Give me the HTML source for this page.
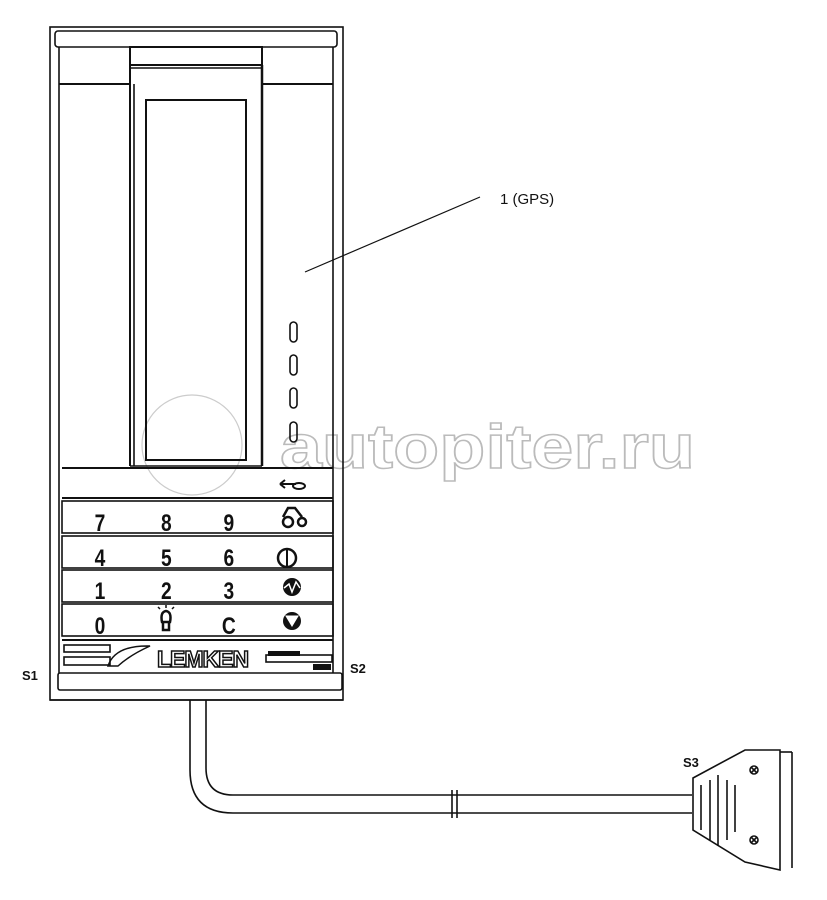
<!DOCTYPE html>
<html><head><meta charset="utf-8"><style>html,body{margin:0;padding:0;background:#fff}svg{display:block}</style></head><body>
<svg width="827" height="900" viewBox="0 0 827 900" xmlns="http://www.w3.org/2000/svg" font-family="Liberation Sans, sans-serif">
<text x="280" y="468" font-size="62" font-weight="bold" fill="none" stroke="#bbb" stroke-width="1.5" textLength="415" lengthAdjust="spacingAndGlyphs">autopiter.ru</text>
<circle cx="192" cy="445" r="50" fill="none" stroke="#ccc" stroke-width="1.2"/>
<g fill="none" stroke="#111" stroke-width="1.6">
<rect x="50" y="27" width="293" height="673"/>
<rect x="55" y="31" width="282" height="16" rx="3"/>
<line x1="59" y1="47" x2="59" y2="673"/>
<line x1="333" y1="47" x2="333" y2="673"/>
<line x1="59" y1="84" x2="130" y2="84" stroke-width="2"/>
<line x1="262" y1="84" x2="333" y2="84" stroke-width="2"/>
<rect x="130" y="47" width="132" height="18" stroke-width="2"/>
<line x1="130" y1="68" x2="262" y2="68"/>
<line x1="130" y1="65" x2="130" y2="466" stroke-width="2"/>
<line x1="262" y1="65" x2="262" y2="466" stroke-width="2.5"/>
<line x1="134" y1="84" x2="134" y2="466"/>
<rect x="146" y="100" width="100" height="360" stroke-width="2"/>
<line x1="130" y1="466" x2="262" y2="466"/>
<rect x="290" y="322" width="7" height="20" rx="3.5"/>
<rect x="290" y="355" width="7" height="20" rx="3.5"/>
<rect x="290" y="388" width="7" height="20" rx="3.5"/>
<rect x="290" y="422" width="7" height="20" rx="3.5"/>
<line x1="62" y1="468" x2="333" y2="468" stroke-width="2"/>
<rect x="62" y="501" width="271" height="32"/>
<rect x="62" y="536" width="271" height="32"/>
<rect x="62" y="570" width="271" height="32"/>
<rect x="62" y="604" width="271" height="32"/>
<line x1="62" y1="498" x2="333" y2="498" stroke-width="2"/>
<line x1="62" y1="640" x2="333" y2="640" stroke-width="2"/>
<rect x="64" y="645" width="46" height="7"/>
<rect x="64" y="657" width="46" height="8"/>
<rect x="266" y="655" width="66" height="7"/>
<rect x="58" y="673" width="284" height="17" rx="2"/>
<line x1="50" y1="700" x2="343" y2="700"/>
<path d="M190 700 V770 Q190 813 233 813 H692"/>
<path d="M206 700 V768 Q206 795 233 795 H692"/>
<line x1="452" y1="790" x2="452" y2="818"/>
<line x1="457" y1="790" x2="457" y2="818"/>
<path d="M693 778 L745 750 H780 L780 870 L745 862 L693 830 Z"/>
<line x1="780" y1="752" x2="792" y2="752"/><line x1="792" y1="752" x2="792" y2="868"/>
<line x1="701" y1="785" x2="701" y2="830"/>
<line x1="710" y1="780" x2="710" y2="840"/>
<line x1="718" y1="775" x2="718" y2="846"/>
<line x1="727" y1="780" x2="727" y2="840"/>
<line x1="735" y1="785" x2="735" y2="832"/>
<circle cx="754" cy="770" r="4"/><circle cx="754" cy="840" r="4"/>
<line x1="751" y1="767" x2="757" y2="773"/><line x1="757" y1="767" x2="751" y2="773"/>
<line x1="751" y1="837" x2="757" y2="843"/><line x1="757" y1="837" x2="751" y2="843"/>
<line x1="305" y1="272" x2="480" y2="197" stroke-width="1.2"/>
<circle cx="287" cy="558" r="9" stroke-width="2.5"/><line x1="287" y1="549" x2="287" y2="567" stroke-width="2"/>
<circle cx="288" cy="522" r="5" stroke-width="2.5"/><circle cx="302" cy="522" r="4" stroke-width="2.5"/>
<path d="M283 517 L288 508 H295 L302 517" stroke-width="2.5"/>
<path d="M280 484 H296 M280 484 L285 480 M280 484 L285 488" stroke-width="2"/>
<ellipse cx="299" cy="486" rx="6" ry="3" stroke-width="2"/>
<path d="M162 622 Q160 612 166 611 Q172 612 170 622 Z M163 622 V630 H169 V622" stroke-width="2.5"/>
<path d="M160 609 L158 607 M166 608 V605 M172 609 L174 607" stroke-width="1.5"/>
</g>
<circle cx="292" cy="587" r="9" fill="#111"/><path d="M284 588 L289 584 L292 592 L296 582 L300 588" fill="none" stroke="#fff" stroke-width="1.5"/>
<circle cx="292" cy="621" r="9" fill="#111"/><path d="M286 616 H298 L292 626 Z" fill="#fff" stroke="#fff"/>
<g font-weight="bold" font-size="24" fill="#111" text-anchor="middle" transform="scale(0.8,1)">
<text x="125" y="531">7</text><text x="208" y="531">8</text><text x="286" y="531">9</text>
<text x="125" y="566">4</text><text x="208" y="566">5</text><text x="286" y="566">6</text>
<text x="125" y="599">1</text><text x="208" y="599">2</text><text x="286" y="599">3</text>
<text x="125" y="634">0</text><text x="286" y="634">C</text>
</g>
<text x="157" y="667" font-size="23" font-weight="bold" fill="#fff" stroke="#111" stroke-width="1.5" letter-spacing="-1">LEMKEN</text>
<path d="M108 666 Q115 645 150 646 Q130 655 118 666 Z" fill="none" stroke="#111" stroke-width="1.5"/>
<rect x="268" y="651" width="32" height="5" fill="#111"/><rect x="313" y="664" width="18" height="6" fill="#111"/>
<g font-size="13" font-weight="bold" fill="#111">
<text x="22" y="680">S1</text><text x="350" y="673">S2</text><text x="683" y="767">S3</text>
</g>
<text x="500" y="204" font-size="15" fill="#111">1 (GPS)</text>
</svg>
</body></html>
